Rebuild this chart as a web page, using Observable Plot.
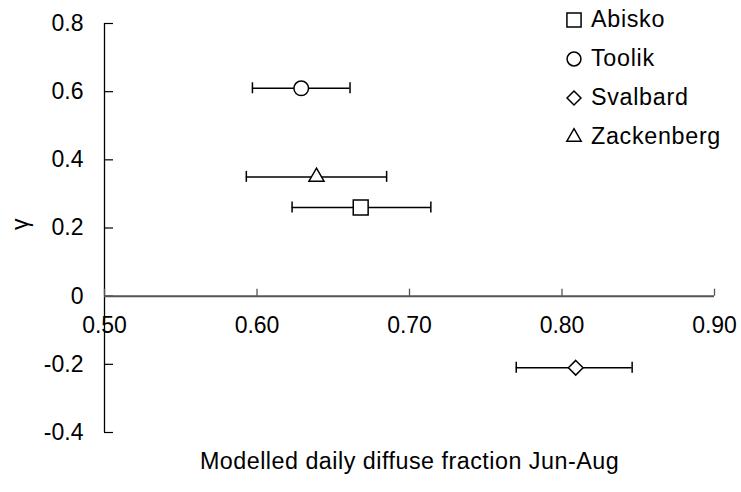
<!DOCTYPE html>
<html>
<head>
<meta charset="utf-8">
<script src="https://cdn.jsdelivr.net/npm/d3@7"></script>
<script src="https://cdn.jsdelivr.net/npm/@observablehq/plot@0.6"></script>
<style>
  body { margin: 0; background: #fff; }
  #chart { position: relative; width: 741px; height: 492px; font-family: "Liberation Sans", Arial, sans-serif; }
  #legend { position: absolute; left: 566px; top: 0px; font-size: 23.3px; letter-spacing: 0.7px; color: #000; }
  #legend .item { height: 39px; display: flex; align-items: center; }
  #legend svg { margin-right: 9px; overflow: visible; }
</style>
</head>
<body>
<div id="chart"></div>
<script>
// Sites and their modelled diffuse fraction (mean with range) against gamma
const sites = ["Abisko", "Toolik", "Svalbard", "Zackenberg"];
const diffuse = [0.668, 0.629, 0.809, 0.639];
const diffuseLow = [0.623, 0.597, 0.770, 0.593];
const diffuseHigh = [0.714, 0.661, 0.846, 0.685];
const gamma = [0.26, 0.61, -0.21, 0.35];

const xTicks = [0.5, 0.6, 0.7, 0.8, 0.9];
const xTickLabels = ["0.50", "0.60", "0.70", "0.80", "0.90"];
const yTicks = [-0.4, -0.2, 0, 0.2, 0.4, 0.6, 0.8];
const yTickLabels = ["-0.4", "-0.2", "0", "0.2", "0.4", "0.6", "0.8"];

const xLabel = "Modelled daily diffuse fraction Jun-Aug";
const yLabel = "γ";

// Marker shape and size for each site
const markers = {
  Abisko: { symbol: "square", r: 8.4 },
  Toolik: { symbol: "circle", r: 7.3 },
  Svalbard: { symbol: "diamond2", r: 6.6 },
  Zackenberg: { symbol: "triangle2", r: 7.2 }
};

const rows = sites.map((site, i) => ({
  site, x: diffuse[i], lo: diffuseLow[i], hi: diffuseHigh[i], y: gamma[i]
}));

const xDomain = [0.5, 0.9];
const yDomain = [-0.4, 0.8];
const axisGray = "#555";

const plot = Plot.plot({
  width: 741,
  height: 492,
  marginLeft: 104,
  marginRight: 27,
  marginTop: 23,
  marginBottom: 60,
  x: { domain: xDomain, axis: null },
  y: { domain: yDomain, axis: null },
  style: { fontFamily: "Liberation Sans, Arial, sans-serif", fontSize: "23px", color: "#000", background: "#fff" },
  marks: [
    // vertical axis line and inward ticks
    Plot.ruleX([xDomain[0]], { stroke: "#000", strokeWidth: 1.3 }),
    Plot.ruleY(yTicks, { y: d => d, x1: xDomain[0], x2: xDomain[0], insetRight: -9, stroke: "#000", strokeWidth: 1.2 }),
    Plot.text(yTicks, { y: d => d, frameAnchor: "left", dx: -21, textAnchor: "end", text: (d, i) => yTickLabels[i], fill: "#000" }),
    // horizontal axis drawn along gamma = 0, ticks pointing up
    Plot.ruleY([0], { stroke: axisGray, strokeWidth: 2 }),
    Plot.ruleX(xTicks, { x: d => d, y1: 0, y2: 0, insetTop: -7, stroke: axisGray, strokeWidth: 1.3 }),
    Plot.text(xTicks, { x: d => d, y: 0, dy: 29, text: (d, i) => xTickLabels[i], fill: "#000" }),
    // axis titles
    Plot.text([yLabel], { frameAnchor: "left", dx: -84, dy: 2, rotate: -90, text: d => d, fill: "#000" }),
    Plot.text([xLabel], { frameAnchor: "bottom", dy: 36, text: d => d, fill: "#000", fontSize: 23.3 }),
    // error bars with end caps
    Plot.ruleY(rows, { y: "y", x1: "lo", x2: "hi", stroke: "#000", strokeWidth: 1.5 }),
    Plot.ruleX(rows, { x: "lo", y1: "y", y2: "y", insetTop: -5.5, insetBottom: -5.5, stroke: "#000", strokeWidth: 1.5 }),
    Plot.ruleX(rows, { x: "hi", y1: "y", y2: "y", insetTop: -5.5, insetBottom: -5.5, stroke: "#000", strokeWidth: 1.5 }),
    // site markers
    ...sites.map(site => Plot.dot(rows.filter(d => d.site === site), {
      x: "x", y: "y", symbol: markers[site].symbol, r: markers[site].r,
      fill: "#fff", stroke: "#000", strokeWidth: 1.5
    }))
  ]
});

const chart = document.getElementById("chart");
chart.appendChild(plot);

// the x title is spaced slightly wider than the tick labels
d3.select(plot).selectAll("text").filter(function () { return this.textContent === xLabel; })
  .style("letter-spacing", "0.5px");

// legend in the upper right corner
const symbolTypes = { square: d3.symbolSquare, circle: d3.symbolCircle, diamond2: d3.symbolDiamond2, triangle2: d3.symbolTriangle2 };
const legend = d3.select(chart).append("div").attr("id", "legend");
sites.forEach(site => {
  const m = markers[site];
  const item = legend.append("div").attr("class", "item");
  const svg = item.append("svg").attr("width", 16).attr("height", 16);
  const size = Math.PI * (m.r * 0.95) ** 2;
  svg.append("path")
    .attr("transform", "translate(8,8)")
    .attr("d", d3.symbol(symbolTypes[m.symbol], size)())
    .attr("fill", "#fff").attr("stroke", "#000").attr("stroke-width", 1.5);
  item.append("span").text(site);
});
</script>
</body>
</html>
